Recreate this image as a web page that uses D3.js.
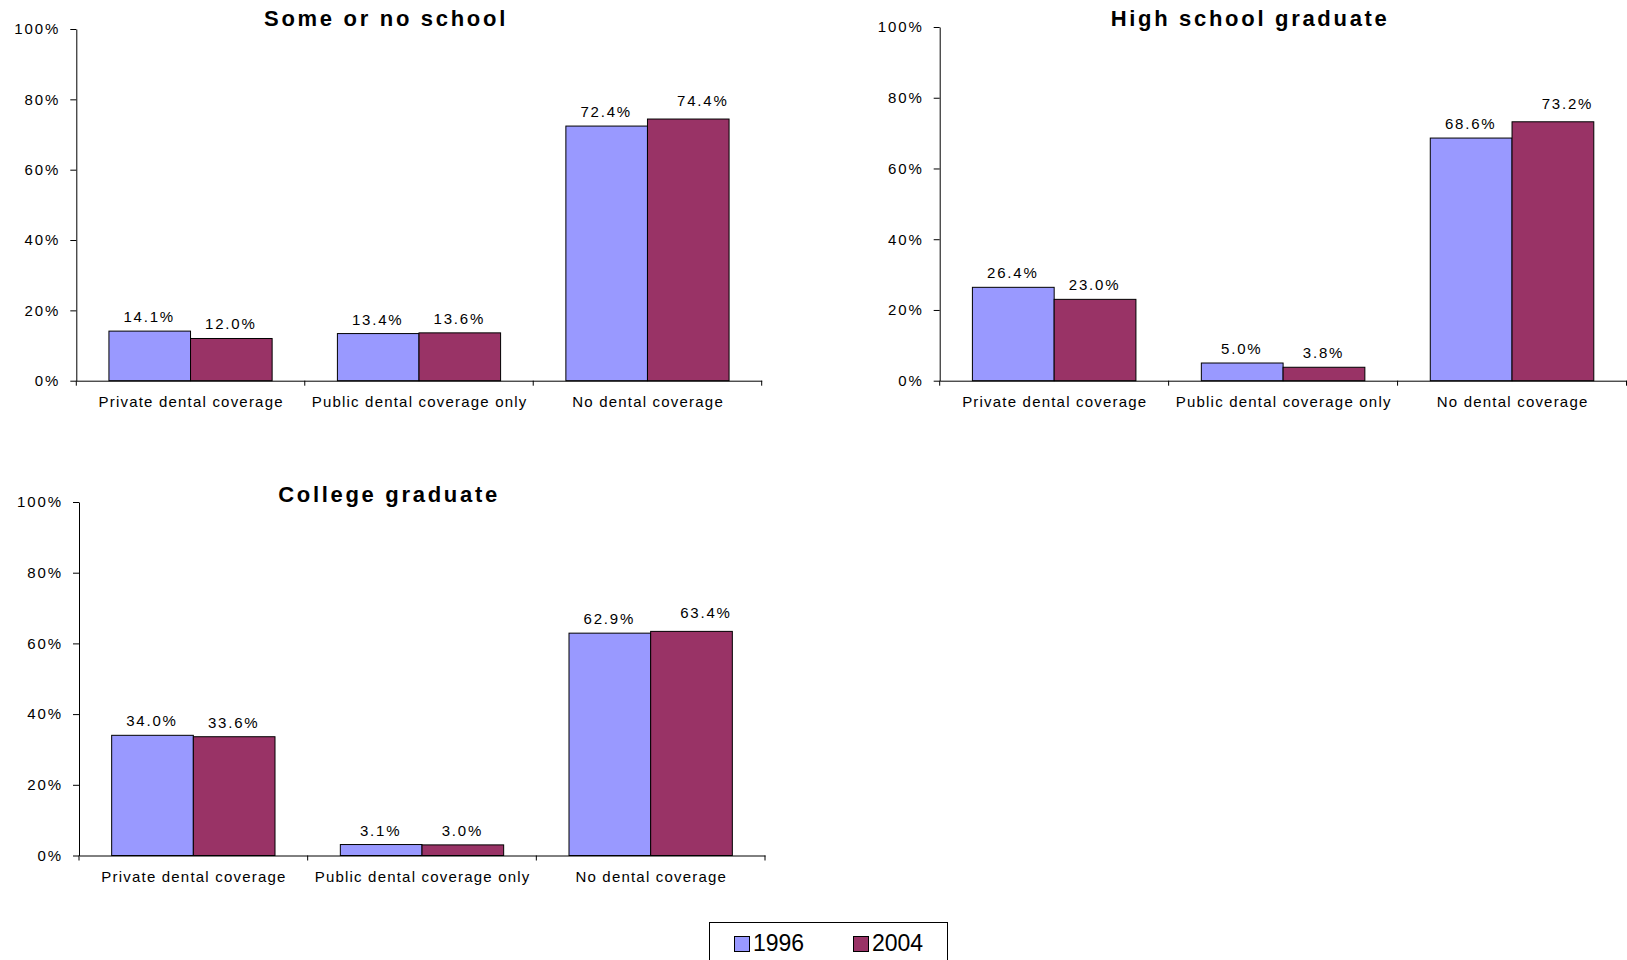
<!DOCTYPE html>
<html>
<head>
<meta charset="utf-8">
<script src="https://cdn.jsdelivr.net/npm/d3@7"></script>
<style>
  html, body { margin: 0; padding: 0; background: #fff; }
  svg { display: block; }
  text { font-family: Arial, "Liberation Sans", sans-serif; fill: #000; }
</style>
</head>
<body>
<svg id="chart" width="1627" height="960"></svg>
<script>
// ---- data ----
const categories = ["Private dental coverage", "Public dental coverage only", "No dental coverage"];
const seriesNames = ["1996", "2004"];
const panelTitles = ["Some or no school", "High school graduate", "College graduate"];
const someSchool1996 = [14.1, 13.4, 72.4];
const someSchool2004 = [12.0, 13.6, 74.4];
const highSchool1996 = [26.4, 5.0, 68.6];
const highSchool2004 = [23.0, 3.8, 73.2];
const college1996 = [34.0, 3.1, 62.9];
const college2004 = [33.6, 3.0, 63.4];
const yTicks = [0, 20, 40, 60, 80, 100];
const seriesColors = ["#9999FF", "#993366"];

const panelValues = [
  [someSchool1996, someSchool2004],
  [highSchool1996, highSchool2004],
  [college1996, college2004]
];

// ---- layout ----
const layout = [
  { x0: 76.3, x1: 761.7, yTop: 29, yBot: 380.7, titleY: 26 },
  { x0: 939.7, x1: 1626.5, yTop: 27, yBot: 380.7, titleY: 26 },
  { x0: 79, x1: 765, yTop: 502, yBot: 855.5, titleY: 502 }
];

const svg = d3.select("#chart");

panelTitles.forEach((title, pi) => {
  const L = layout[pi];
  const g = svg.append("g");
  const x = d3.scaleBand().domain(categories).range([L.x0, L.x1]).paddingInner(0).paddingOuter(0);
  const xs = d3.scaleBand().domain(seriesNames).range([0, x.bandwidth()]).paddingInner(0).paddingOuter(0.4);
  const y = d3.scaleLinear().domain([0, 100]).range([L.yBot, L.yTop]);

  // bars
  const rows = [];
  categories.forEach((c, ci) => {
    seriesNames.forEach((s, si) => {
      rows.push({ c, ci, s, si, v: panelValues[pi][si][ci] });
    });
  });

  g.selectAll("rect.bar").data(rows).enter().append("rect")
    .attr("class", "bar")
    .attr("x", d => x(d.c) + xs(d.s))
    .attr("y", d => y(d.v))
    .attr("width", xs.bandwidth())
    .attr("height", d => y(0) - y(d.v))
    .attr("fill", d => seriesColors[d.si])
    .attr("stroke", "#000")
    .attr("stroke-width", 1);

  // value labels (Excel nudges the second tall label up and right)
  const nudged = d => d.si === 1 && d.v > 50 && panelValues[pi][0][d.ci] > 50;
  g.selectAll("text.val").data(rows).enter().append("text")
    .attr("class", "val")
    .attr("x", d => x(d.c) + xs(d.s) + xs.bandwidth() / 2 - 0.5 + (nudged(d) ? 15 : 0))
    .attr("y", d => y(d.v) - (nudged(d) ? 13 : 9))
    .attr("text-anchor", "middle")
    .style("font-size", "15px")
    .style("letter-spacing", "1.8px")
    .text(d => d.v.toFixed(1) + "%");

  // y axis
  const yAxis = d3.axisLeft(y).tickValues(yTicks).tickSize(6).tickSizeOuter(0)
    .tickFormat(d => d + "%");
  const ya = g.append("g").attr("transform", `translate(${L.x0},0)`).call(yAxis);
  ya.select(".domain").attr("stroke", "#000");
  ya.selectAll(".tick line").attr("stroke", "#000");
  ya.selectAll(".tick text")
    .attr("x", -16)
    .style("font-size", "15px")
    .style("letter-spacing", "1.9px")
    .style("font-family", "Arial, 'Liberation Sans', sans-serif")
    .attr("fill", "#000");

  // x axis
  const xa = g.append("g").attr("transform", `translate(0,${L.yBot})`)
    .call(d3.axisBottom(x).tickSize(0).tickSizeOuter(0));
  xa.select(".domain").attr("stroke", "#000");
  xa.selectAll(".tick text")
    .attr("dy", 0)
    .attr("y", 26)
    .attr("dx", "0.6")
    .style("font-size", "15px")
    .style("letter-spacing", "1.2px")
    .style("font-family", "Arial, 'Liberation Sans', sans-serif")
    .attr("fill", "#000");
  // category separator ticks
  const sepPos = categories.map(c => x(c)).concat([L.x1]);
  g.selectAll("line.sep").data(sepPos).enter().append("line")
    .attr("class", "sep")
    .attr("x1", d => d).attr("x2", d => d)
    .attr("y1", L.yBot).attr("y2", L.yBot + 5)
    .attr("stroke", "#000");

  // title
  g.append("text")
    .attr("x", (L.x0 + L.x1) / 2 - 33)
    .attr("y", L.titleY)
    .attr("text-anchor", "middle")
    .style("font-size", "22px")
    .style("font-weight", "bold")
    .style("letter-spacing", "2.7px")
    .text(title);
});

// ---- legend ----
const lg = svg.append("g");
lg.append("rect")
  .attr("x", 709.5).attr("y", 922.5)
  .attr("width", 238).attr("height", 60)
  .attr("fill", "#fff").attr("stroke", "#000").attr("stroke-width", 1);

const legendX = d3.scalePoint().domain(seriesNames).range([734, 853]);
const items = lg.selectAll("g.item").data(seriesNames).enter().append("g").attr("class", "item");
items.append("rect")
  .attr("x", d => legendX(d) + 0.5).attr("y", 936.5)
  .attr("width", 15).attr("height", 15)
  .attr("fill", (d, i) => seriesColors[i])
  .attr("stroke", "#000");
items.append("text")
  .attr("x", d => legendX(d) + 19)
  .attr("y", 951)
  .style("font-size", "23px")
  .text(d => d);
</script>
</body>
</html>
